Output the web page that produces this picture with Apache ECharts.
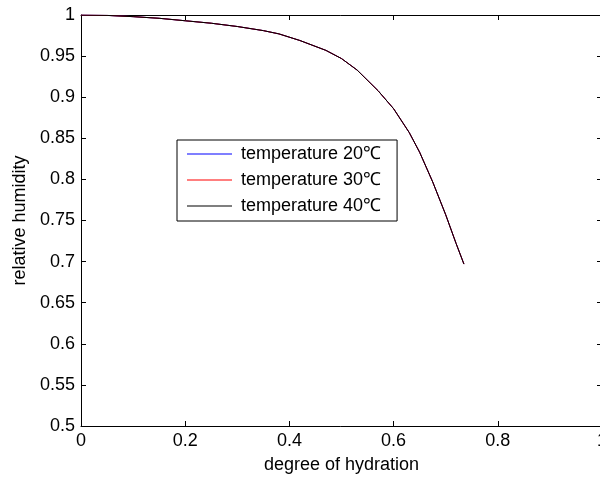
<!DOCTYPE html>
<html>
<head>
<meta charset="utf-8">
<script src="https://cdn.jsdelivr.net/npm/echarts@6/dist/echarts.min.js"></script>
<style>
html,body{margin:0;padding:0;background:#fff;}
#chart{width:600px;height:477px;}
</style>
</head>
<body>
<div id="chart"></div>
<script>
// Data
const hydration = [0, 0.05, 0.1, 0.15, 0.2, 0.25, 0.3, 0.35, 0.38, 0.42, 0.47, 0.5, 0.53, 0.57, 0.6, 0.63, 0.65, 0.675, 0.7, 0.72, 0.735];
const rh20 = [1.000, 0.9995, 0.998, 0.996, 0.993, 0.990, 0.986, 0.981, 0.977, 0.969, 0.957, 0.947, 0.933, 0.908, 0.886, 0.857, 0.833, 0.797, 0.757, 0.722, 0.697];
const rh30 = [1.000, 0.9995, 0.998, 0.996, 0.993, 0.990, 0.986, 0.981, 0.977, 0.969, 0.957, 0.947, 0.933, 0.908, 0.886, 0.857, 0.833, 0.797, 0.757, 0.722, 0.697];
const rh40 = [1.000, 0.9995, 0.998, 0.996, 0.993, 0.990, 0.986, 0.981, 0.977, 0.969, 0.957, 0.947, 0.933, 0.908, 0.886, 0.857, 0.833, 0.797, 0.757, 0.722, 0.697];
const seriesNames = ['temperature 20℃', 'temperature 30℃', 'temperature 40℃'];
const seriesColors = ['#0000ff', '#ff0000', '#000000'];
const xTitle = 'degree of hydration';
const yTitle = 'relative humidity';

const font = "'Liberation Sans', Arial, Helvetica, sans-serif";
const pairs = (xs, ys) => xs.map((x, i) => [x, ys[i]]);
const allY = [rh20, rh30, rh40];

const chart = echarts.init(document.getElementById('chart'), null, {renderer: 'canvas'});
const axisCommon = {
  axisLine: {show: true, onZero: false, lineStyle: {color: '#000', width: 1}},
  splitLine: {show: false},
  axisTick: {show: true, inside: true, length: 5, lineStyle: {color: '#000', width: 1}}
};
chart.setOption({
  animation: false,
  backgroundColor: '#fff',
  grid: {left: 81, width: 521, top: 15, height: 411, containLabel: false, outerBoundsMode: 'none'},
  legend: {
    orient: 'vertical',
    left: 177, top: 140,
    padding: [5, 16, 6, 10],
    itemGap: 8,
    itemWidth: 45,
    itemHeight: 1,
    icon: 'rect',
    backgroundColor: '#fff',
    borderColor: '#000',
    borderWidth: 1,
    borderRadius: 0,
    textStyle: {fontFamily: font, fontSize: 18, color: '#000', padding: [0, 0, 0, 4]},
    data: seriesNames
  },
  xAxis: [
    Object.assign({
      type: 'value', min: 0, max: 1, interval: 0.2, position: 'bottom',
      name: xTitle, nameLocation: 'middle', nameGap: 30,
      nameTextStyle: {fontFamily: font, fontSize: 18, color: '#000'},
      axisLabel: {fontFamily: font, fontSize: 18, color: '#000', margin: 6,
        formatter: v => String(+v.toFixed(2))}
    }, axisCommon),
    Object.assign({
      type: 'value', min: 0, max: 1, interval: 0.2, position: 'top',
      axisLabel: {show: false}
    }, axisCommon)
  ],
  yAxis: [
    Object.assign({
      type: 'value', min: 0.5, max: 1, interval: 0.05, position: 'left',
      name: yTitle, nameLocation: 'middle', nameGap: 50,
      nameTextStyle: {fontFamily: font, fontSize: 18, color: '#000'},
      axisLabel: {fontFamily: font, fontSize: 18, color: '#000', margin: 6,
        formatter: v => String(+v.toFixed(2))}
    }, axisCommon),
    Object.assign({
      type: 'value', min: 0.5, max: 1, interval: 0.05, position: 'right',
      axisLabel: {show: false}
    }, axisCommon)
  ],
  series: seriesNames.map((n, i) => ({
    name: n, type: 'line', xAxisIndex: 0, yAxisIndex: 0,
    data: pairs(hydration, allY[i]),
    showSymbol: false, symbol: 'none', smooth: false,
    lineStyle: {color: seriesColors[i], width: 1},
    itemStyle: {color: seriesColors[i]}
  }))
});
</script>
</body>
</html>
